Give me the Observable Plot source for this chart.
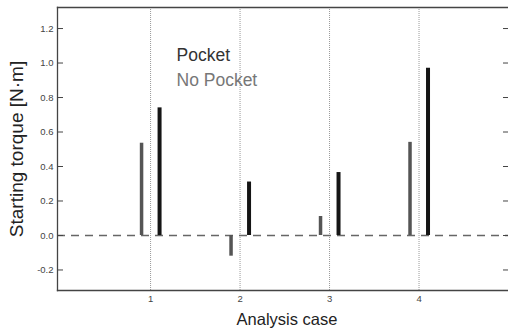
<!DOCTYPE html>
<html>
<head>
<meta charset="utf-8">
<script src="https://cdn.jsdelivr.net/npm/d3@7"></script>
<script src="https://cdn.jsdelivr.net/npm/@observablehq/plot@0.6"></script>
<style>
  body { margin: 0; background: #fff; }
  svg { display: block; }
</style>
</head>
<body>
<div id="chart"></div>
<script>
const cases = [1, 2, 3, 4];
const noPocket = [0.535, -0.12, 0.11, 0.54];
const pocket = [0.74, 0.31, 0.365, 0.97];
const yTicks = [-0.2, 0.0, 0.2, 0.4, 0.6, 0.8, 1.0, 1.2];
const xTicks = [1, 2, 3, 4];
const legendLabels = ["Pocket", "No Pocket"];

const noPocketData = cases.map((c, i) => ({case: c, value: noPocket[i]}));
const pocketData = cases.map((c, i) => ({case: c, value: pocket[i]}));

const font = "'Liberation Sans', Arial, sans-serif";
const fmt = d => d3.format(".1f")(d).replace("\u2212", "-");

const chart = Plot.plot({
  width: 508,
  height: 335,
  marginLeft: 57,
  marginRight: 0,
  marginTop: 7,
  marginBottom: 45,
  style: {fontFamily: font, background: "#fff", overflow: "visible"},
  x: {domain: [-0.04, 5.0], axis: null},
  y: {domain: [-0.319, 1.322], axis: null},
  marks: [
    Plot.ruleX(xTicks, {stroke: "#999", strokeDasharray: "1,1", strokeWidth: 1}),
    Plot.ruleY([0], {stroke: "#666", strokeDasharray: "8,6", strokeWidth: 1.5}),
    Plot.ruleX(noPocketData, {x: "case", y1: 0, y2: "value", dx: -9, stroke: "#555", strokeWidth: 3.5}),
    Plot.ruleX(pocketData, {x: "case", y1: 0, y2: "value", dx: 9, stroke: "#151515", strokeWidth: 4}),
    Plot.axisY({anchor: "left", ticks: yTicks, tickSize: 6, dx: 6, text: null, stroke: "#444", label: null}),
    Plot.axisY({anchor: "right", ticks: yTicks, tickSize: 6, dx: -6, text: null, stroke: "#444", label: null}),
    Plot.axisY({anchor: "left", ticks: yTicks, tickSize: 0, tickPadding: 4, tickFormat: fmt, fontSize: 9.5, fill: "#444", label: null}),
    Plot.axisX({anchor: "bottom", ticks: xTicks, tickSize: 0, tickPadding: 5, tickFormat: d => String(d), fontSize: 9.5, fill: "#444", label: null}),
    Plot.frame({anchor: "left", stroke: "#444", strokeWidth: 1.3}),
    Plot.frame({anchor: "bottom", stroke: "#444", strokeWidth: 1.3}),
    Plot.frame({anchor: "top", stroke: "#444", strokeWidth: 1.3}),
    Plot.text([legendLabels[0]], {frameAnchor: "top-left", text: d => d, dx: 119, dy: 41, textAnchor: "start", fontSize: 17.5, fill: "#333"}),
    Plot.text([legendLabels[1]], {frameAnchor: "top-left", text: d => d, dx: 119, dy: 66, textAnchor: "start", fontSize: 17.5, fill: "#777"}),
    Plot.text(["Starting torque [N\u00b7m]"], {frameAnchor: "left", text: d => d, dx: -41, rotate: -90, textAnchor: "middle", fontSize: 19, fill: "#222"}),
    Plot.text(["Analysis case"], {frameAnchor: "bottom", text: d => d, dx: 4, dy: 34, textAnchor: "middle", fontSize: 16.5, fill: "#222"})
  ]
});
document.getElementById("chart").appendChild(chart);
</script>
</body>
</html>
